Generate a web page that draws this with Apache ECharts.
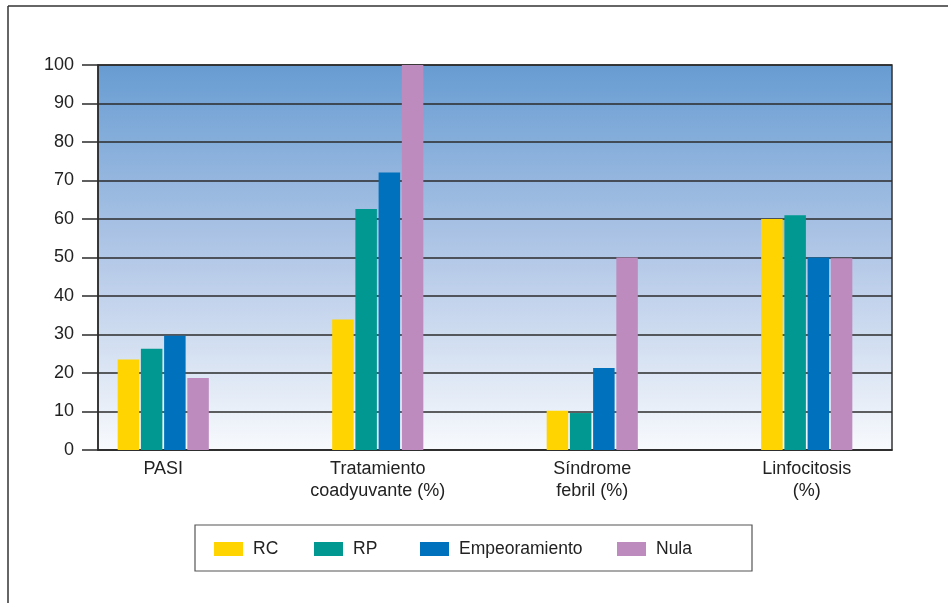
<!DOCTYPE html>
<html><head><meta charset="utf-8">
<script src="https://cdn.jsdelivr.net/npm/echarts@6/dist/echarts.min.js"></script>
<style>html,body{margin:0;padding:0;background:#fff}#c{width:948px;height:603px}</style>
</head><body><div id="c"></div>
<script>
var categories = ['PASI', 'Tratamiento\ncoadyuvante (%)', 'Síndrome\nfebril (%)', 'Linfocitosis\n(%)'];
var seriesNames = ['RC', 'RP', 'Empeoramiento', 'Nula'];
var rcValues = [23.5, 33.9, 10.2, 60];
var rpValues = [26.3, 62.6, 9.6, 61];
var empeoramientoValues = [29.7, 72.1, 21.3, 50];
var nulaValues = [18.7, 100, 50, 49.8];
var yTicks = [0, 10, 20, 30, 40, 50, 60, 70, 80, 90, 100];
var colors = ['#FFD400', '#009890', '#0071BC', '#BD8BBE'];

var font = 'Liberation Sans, Arial, sans-serif';
var chart = echarts.init(document.getElementById('c'));
var allValues = [rcValues, rpValues, empeoramientoValues, nulaValues];
var legendLefts = [214, 314, 420, 617];

var legends = seriesNames.map(function (n, i) {
  return {
    data: [n], left: legendLefts[i], top: 540, orient: 'horizontal',
    itemWidth: 29, itemHeight: 14, itemGap: 10, padding: 0,
    icon: 'rect', selectedMode: false,
    textStyle: { fontFamily: font, fontSize: 17.5, color: '#222', padding: [0, 0, 0, 5] }
  };
});

chart.setOption({
  animation: false,
  backgroundColor: '#fff',
  grid: [
    { left: 56, right: 34, top: 65, bottom: 153, show: false },
    { left: 98, right: 56, top: 65, bottom: 153, show: true, z: 0,
      borderColor: '#333', borderWidth: 1.5,
      backgroundColor: { type: 'linear', x: 0, y: 0, x2: 0, y2: 1,
        colorStops: [{ offset: 0, color: '#679cd2' }, { offset: 0.5, color: '#b3c8e7' }, { offset: 1, color: '#f8fafd' }] } }
  ],
  legend: legends,
  xAxis: [
    { type: 'category', gridIndex: 0, data: categories,
      axisLine: { show: false }, axisTick: { show: false },
      axisLabel: { margin: 8, fontFamily: font, fontSize: 18, color: '#222', lineHeight: 22, interval: 0 } },
    { type: 'category', gridIndex: 1, data: categories, show: true,
      axisLine: { show: true, lineStyle: { color: '#2b2b2b', width: 1.5 } },
      axisTick: { show: false }, axisLabel: { show: false } }
  ],
  yAxis: [
    { type: 'value', gridIndex: 0, min: 0, max: 100, interval: 10, show: false, splitLine: { show: false } },
    { type: 'value', gridIndex: 1, min: 0, max: 100, interval: 10,
      axisLine: { show: true, lineStyle: { color: '#2b2b2b', width: 1.5 } },
      axisTick: { show: true, length: 16, lineStyle: { color: '#2b2b2b', width: 1.5 } },
      axisLabel: { margin: 24, fontFamily: font, fontSize: 18, color: '#222',
        formatter: function (v) { return yTicks.indexOf(v) >= 0 ? String(v) : ''; } },
      splitLine: { show: true, lineStyle: { color: '#2b2b2b', width: 1.5 } } }
  ],
  series: seriesNames.map(function (n, i) {
    return {
      name: n, type: 'bar', xAxisIndex: 0, yAxisIndex: 0, z: 5,
      data: allValues[i], barWidth: 21.5, barGap: '8%',
      itemStyle: { color: colors[i] }
    };
  }),
  graphic: [
    { type: 'line', shape: { x1: 8, y1: 6, x2: 948, y2: 6 }, style: { stroke: '#333', lineWidth: 1.5 }, z: 10 },
    { type: 'line', shape: { x1: 8, y1: 6, x2: 8, y2: 603 }, style: { stroke: '#333', lineWidth: 1.5 }, z: 10 },
    { type: 'rect', shape: { x: 195, y: 525, width: 557, height: 46 }, style: { fill: 'none', stroke: '#555', lineWidth: 1.2 }, z: 10 }
  ]
});
</script></body></html>
